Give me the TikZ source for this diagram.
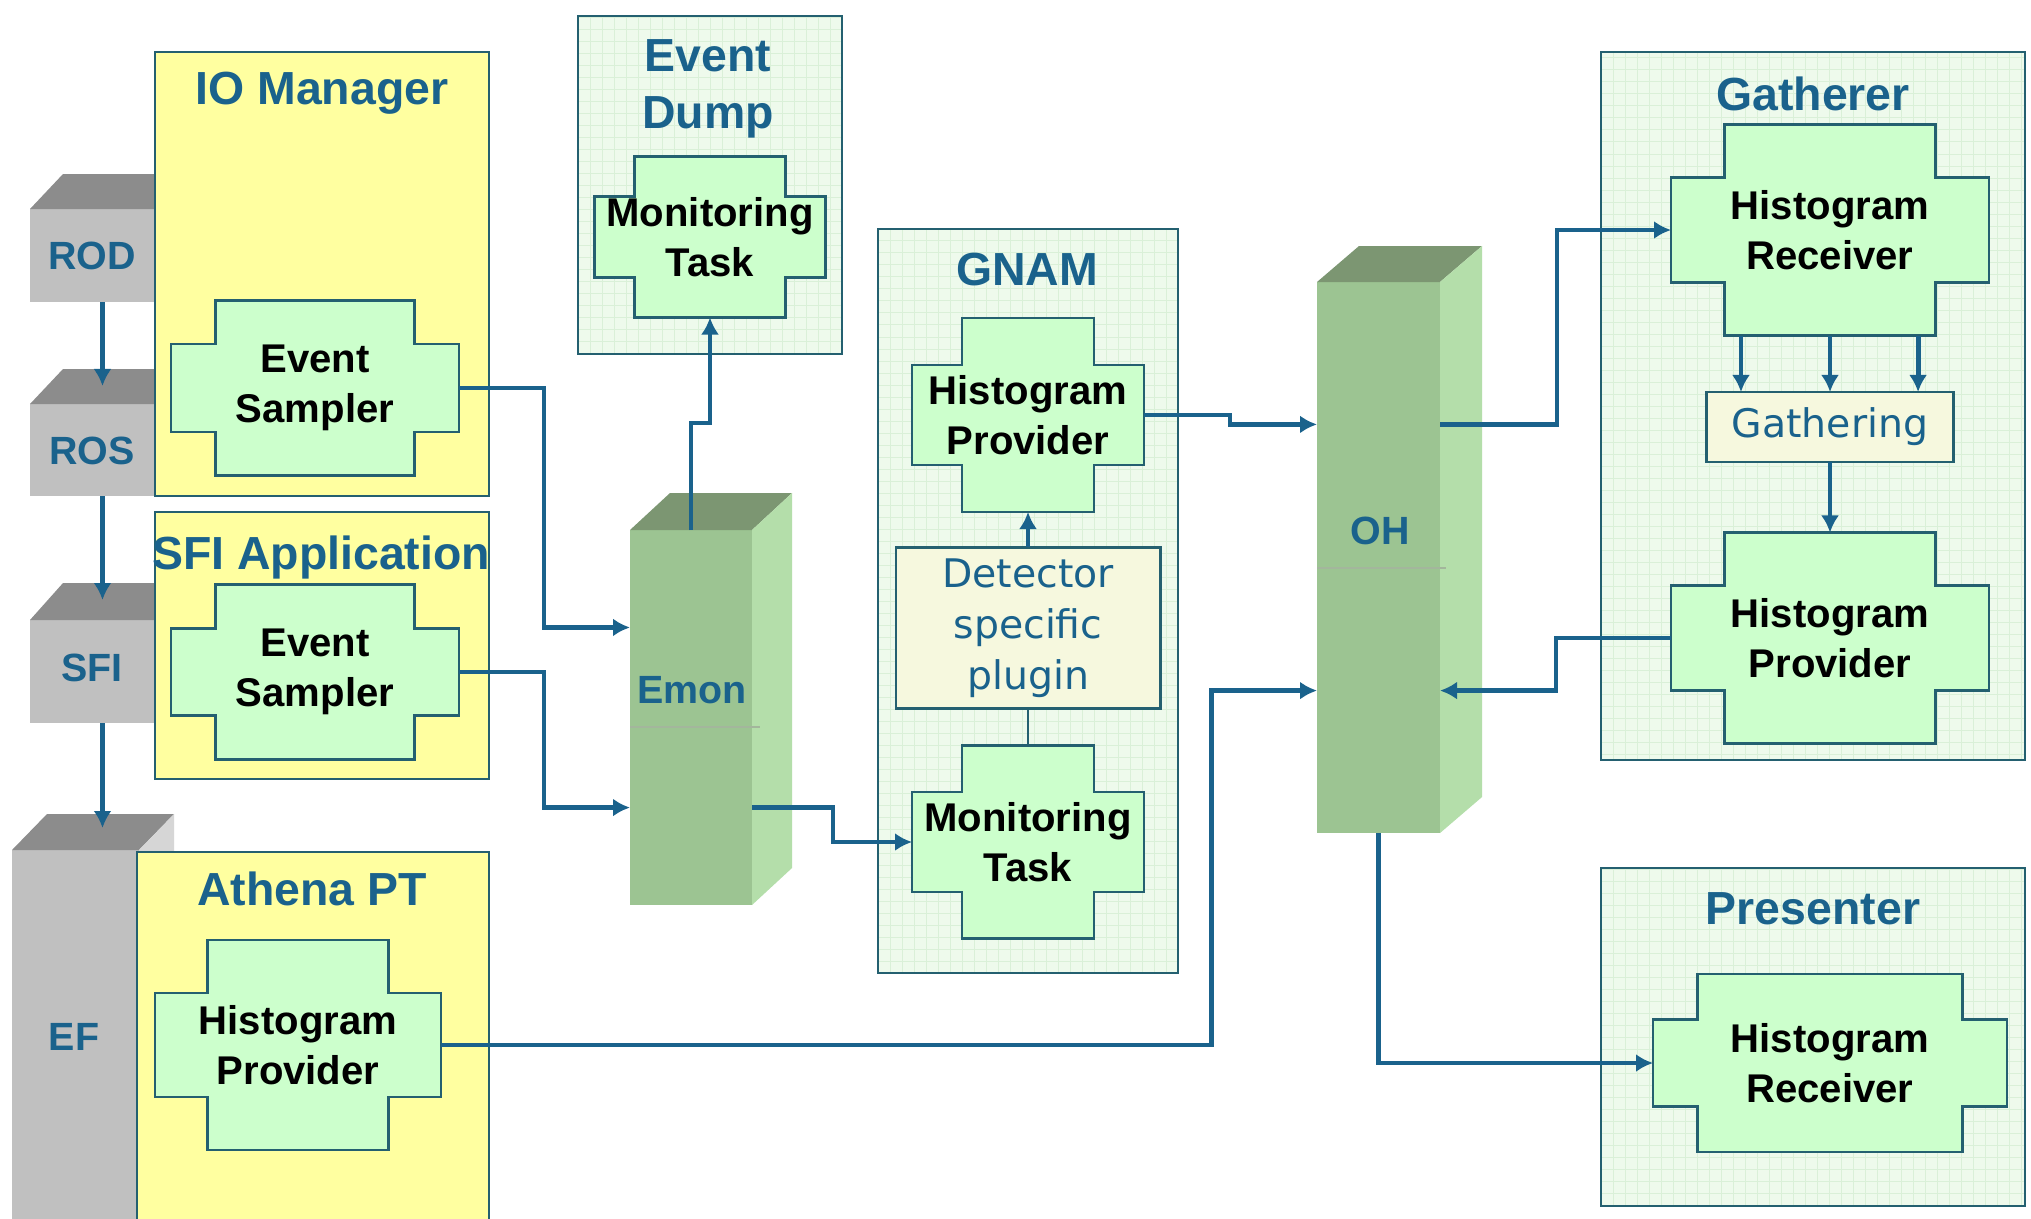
\documentclass[tikz,border=0pt]{standalone}
\usepackage{fontspec}
\setmainfont{Liberation Sans}
\newfontfamily\plainfont{DejaVu Sans}
\usetikzlibrary{arrows.meta,fit,calc}

\definecolor{accentteal}{RGB}{26,98,140}
\definecolor{frameteal}{RGB}{36,96,112}
\definecolor{paneyellow}{RGB}{255,255,160}
\definecolor{panegreen}{RGB}{238,250,236}
\definecolor{gridgreen}{RGB}{218,240,216}
\definecolor{crossgreen}{RGB}{204,255,204}
\definecolor{plugincream}{RGB}{246,248,222}
\definecolor{slabgrey}{RGB}{192,192,192}
\definecolor{slabgreytop}{RGB}{140,140,140}
\definecolor{slabgreyside}{RGB}{214,214,214}
\definecolor{slabgreen}{RGB}{156,196,146}
\definecolor{slabgreentop}{RGB}{124,150,114}
\definecolor{slabgreenside}{RGB}{180,222,170}

\tikzset{
  pane/.style={draw=frameteal, line width=0.8pt, inner sep=0pt, outer sep=0pt},
  yellowpane/.style={pane, fill=paneyellow},
  greenpane/.style={pane, fill=panegreen,
    path picture={\draw[gridgreen, line width=0.2pt, step=1.2mm]
      (path picture bounding box.south west) grid (path picture bounding box.north east);}},
  panetitle/.style={text=accentteal, align=center,
    font=\fontsize{13.2}{16.2}\selectfont\bfseries},
  crossbox/.style={draw=frameteal, line width=0.8pt, fill=crossgreen},
  crosstext/.style={inner sep=0pt, outer sep=0pt, align=center,
    font=\fontsize{11.4}{14.2}\selectfont\bfseries},
  softbox/.style={draw=frameteal, line width=0.8pt, fill=plugincream, inner sep=0pt,
    outer sep=0pt, text=accentteal, align=center,
    font=\plainfont\fontsize{11.2}{14.5}\selectfont},
  slab/.style={inner sep=0pt, outer sep=0pt},
  slablabel/.style={text=accentteal, font=\fontsize{11.2}{13}\selectfont\bfseries},
  flow/.style={draw=accentteal, line width=1.4pt, -{Latex[length=1.7mm,width=1.8mm]}},
  tie/.style={draw=frameteal, line width=0.8pt},
}

% cross shaped box: name, centre, bar w, bar h, post w, post h, text
\newcommand{\crossnode}[7]{%
  \begin{scope}[shift={(#2)}]
    \draw[crossbox] (-#3/2,-#4/2) -- (-#5/2,-#4/2) -- (-#5/2,-#6/2) -- (#5/2,-#6/2)
      -- (#5/2,-#4/2) -- (#3/2,-#4/2) -- (#3/2,#4/2) -- (#5/2,#4/2) -- (#5/2,#6/2)
      -- (-#5/2,#6/2) -- (-#5/2,#4/2) -- (-#3/2,#4/2) -- cycle;
    \node[crosstext, minimum width=#3*0.01cm, minimum height=#4*0.01cm] (#1) at (0,0) {#7};
    \coordinate (#1-top) at (0,-#6/2);
    \coordinate (#1-bot) at (0,#6/2);
  \end{scope}}

% block with depth: name, front corner, opposite front corner, depth, front, top, side
\newcommand{\slabbox}[7]{%
  \node[slab, fill=#5, fit={(#2) (#3)}] (#1) {};
  \fill[#6] (#1.north west) -- ++(#4) -- ([shift={(#4)}]#1.north east) -- (#1.north east) -- cycle;
  \fill[#7] (#1.north east) -- ++(#4) -- ([shift={(#4)}]#1.south east) -- (#1.south east) -- cycle;}

\begin{document}
\begin{tikzpicture}[x=0.01cm, y=-0.01cm]
  \path[use as bounding box, fill=white] (0,0) rectangle (2031,1218);

  % readout chain
  \slabbox{rod}{30,209}{175,302}{33,-35}{slabgrey}{slabgreytop}{slabgreyside}
  \slabbox{ros}{30,404}{175,496}{33,-35}{slabgrey}{slabgreytop}{slabgreyside}
  \slabbox{sfi}{30,620}{175,723}{33,-37}{slabgrey}{slabgreytop}{slabgreyside}
  \slabbox{ef}{12,850}{139,1240}{35,-36}{slabgrey}{slabgreytop}{slabgreyside}

  % servers
  \slabbox{emon}{630,530}{752,905}{40,-37}{slabgreen}{slabgreentop}{slabgreenside}
  \slabbox{oh}{1317,282}{1440,833}{42,-36}{slabgreen}{slabgreentop}{slabgreenside}
  \draw[slabgreentop!70, line width=0.6pt] (630,727) -- (760,727);
  \draw[slabgreentop!70, line width=0.6pt] (1317,568) -- (1446,568);

  \node[slablabel] (rodlbl) at (92,256) {ROD};
  \node[slablabel] (roslbl) at (92,451) {ROS};
  \node[slablabel] (sfilbl) at (92,668) {SFI};
  \node[slablabel] (eflbl) at (74,1037) {EF};
  \node[slablabel] (emonlbl) at (692,690) {Emon};
  \node[slablabel] (ohlbl) at (1380,531) {OH};

  % applications
  \node[yellowpane, fit={(155,52) (489,496)}] (iomgr) {};
  \node[panetitle] (iomgrtitle) at (322,93) {IO Manager};
  \node[yellowpane, fit={(155,512) (489,779)}] (sfiapp) {};
  \node[panetitle] (sfiapptitle) at (321,557) {SFI Application};
  \node[yellowpane, fit={(137,852) (489,1240)}] (athena) {};
  \node[panetitle] (athenatitle) at (312,889) {Athena PT};
  \node[greenpane, fit={(578,16) (842,354)}] (dump) {};
  \node[panetitle] (dumptitle) at (708,89) {Event\\Dump};
  \node[greenpane, fit={(878,229) (1178,973)}] (gnam) {};
  \node[panetitle] (gnamtitle) at (1027,270) {GNAM};
  \node[greenpane, fit={(1601,52) (2025,760)}] (gatherer) {};
  \node[panetitle] (gatherertitle) at (1813,94) {Gatherer};
  \node[greenpane, fit={(1601,868) (2025,1206)}] (presenter) {};
  \node[panetitle] (presentertitle) at (1813,909) {Presenter};

  \node[softbox, minimum width=2.64cm, minimum height=1.61cm] (plugin) at (1028,628) {Detector\\specific\\plugin};
  \node[softbox, minimum width=2.47cm, minimum height=0.70cm] (gath) at (1830,427) {Gathering};

  \crossnode{iosampler}{315,388}{288}{88}{199}{175}{Event\\Sampler}
  \crossnode{sfisampler}{315,672}{288}{87}{199}{175}{Event\\Sampler}
  \crossnode{athenahp}{298,1045}{286}{104}{181}{210}{Histogram\\Provider}
  \crossnode{dumptask}{710,237}{231}{81}{151}{161}{Monitoring\\Task}
  \crossnode{gnamhp}{1028,415}{232}{100}{132}{194}{Histogram\\Provider}
  \crossnode{gnamtask}{1028,842}{232}{100}{132}{193}{Monitoring\\Task}
  \crossnode{gathhr}{1830,230}{318}{105}{211}{211}{Histogram\\Receiver}
  \crossnode{gathhp}{1830,638}{318}{105}{211}{211}{Histogram\\Provider}
  \crossnode{preshr}{1830,1063}{354}{87}{265}{178}{Histogram\\Receiver}

  % connectors
  \draw[flow] (rod.south) -- ($(ros.north)+(0,-18)$);
  \draw[flow] (ros.south) -- ($(sfi.north)+(0,-20)$);
  \draw[flow] (sfi.south) -- ($(sfi.south |- ef.north)+(0,-22)$);

  \draw[flow] (iosampler.east) -- ++(85,0) |- ([yshift=0.9cm]emon.west);
  \draw[flow] (sfisampler.east) -- ++(85,0) |- ([yshift=-0.9cm]emon.west);
  \draw[flow] (emon.north) -- ++(0,-107) -| (dumptask-bot);
  \draw[flow] ([yshift=-0.9cm]emon.east) -- ++(81,0) |- (gnamtask.west);
  \draw[tie] (plugin.south) -- (gnamtask-top);
  \draw[flow] (plugin.north) -- (gnamhp-bot);

  \draw[flow] (gnamhp.east) -- ++(86,0) |- ([yshift=1.33cm]oh.west);
  \draw[flow] (athenahp.east) -| ([xshift=-1.05cm,yshift=-1.33cm]oh.west) -- ([yshift=-1.33cm]oh.west);
  \draw[flow] ([yshift=1.33cm]oh.east) -- ++(117,0) |- (gathhr.west);
  \foreach \dx in {-0.89,0,0.88}
    \draw[flow] ([xshift=\dx cm]gathhr-bot) -- ([xshift=\dx cm]gath.north);
  \draw[flow] (gath.south) -- (gathhp-top);
  \draw[flow] (gathhp.west) -- ++(-115,0) |- ([yshift=-1.33cm]oh.east);
  \draw[flow] (oh.south) |- (preshr.west);
\end{tikzpicture}
\end{document}
